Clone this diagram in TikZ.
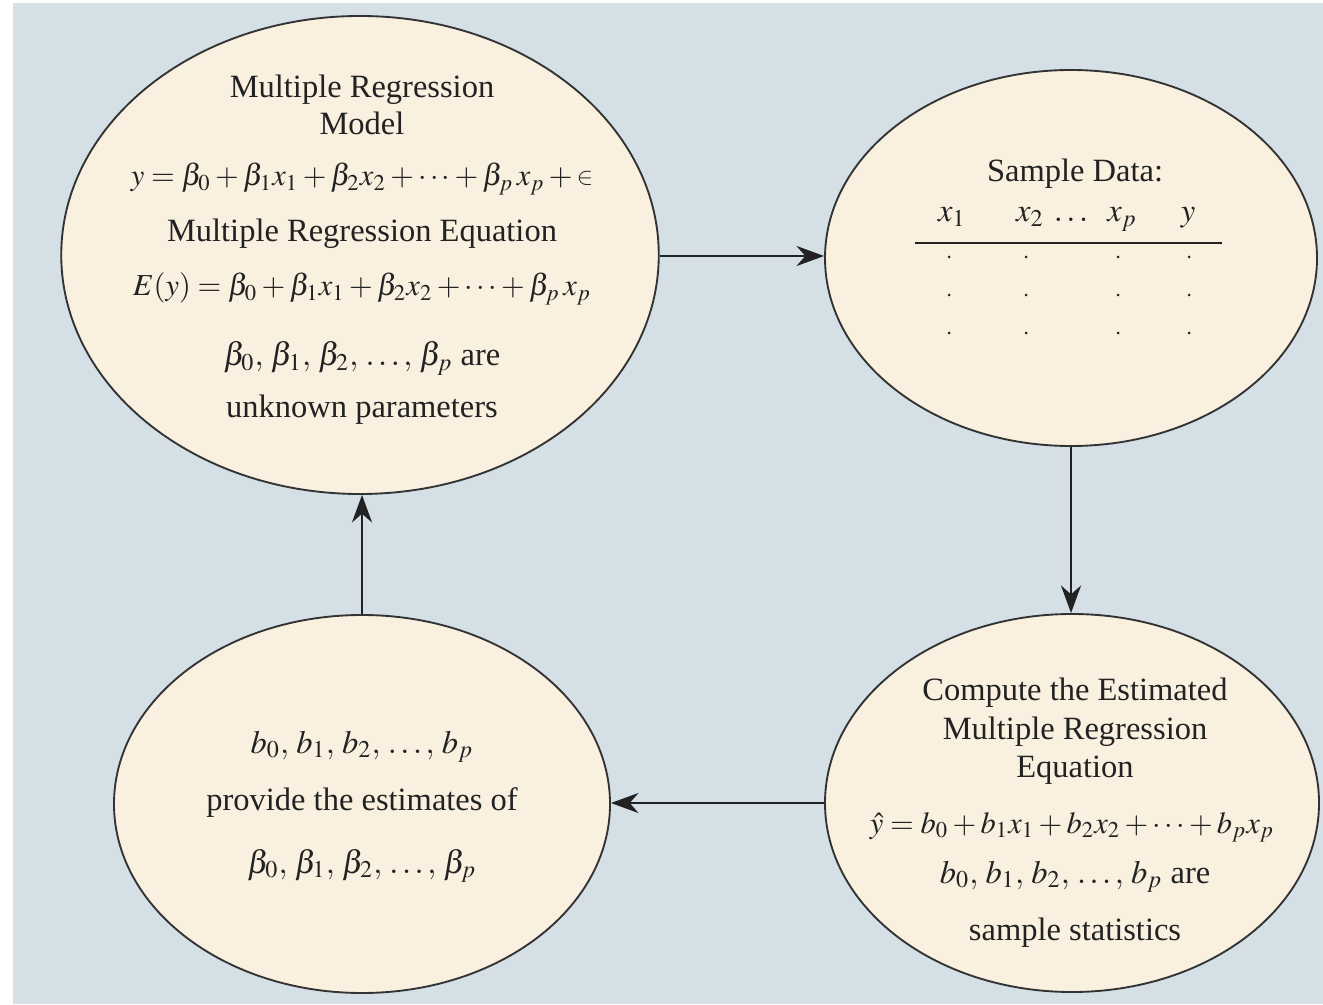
\documentclass[tikz,border=0pt]{standalone}
\usepackage{mathptmx}
\usepackage{fontspec}
\setmainfont{Liberation Serif}
\usetikzlibrary{shapes.geometric,arrows.meta}
\definecolor{bgblue}{HTML}{D4DFE6}
\definecolor{ellfill}{HTML}{F9F0E0}
\definecolor{inkc}{HTML}{222222}
\definecolor{edgec}{HTML}{333333}
\tikzset{
  oval/.style={ellipse, draw=edgec, line width=0.75pt, fill=ellfill, inner sep=0pt},
  txt/.style={anchor=base, inner sep=0pt, text=inkc, font=\fontsize{13}{15}\selectfont},
  eqn/.style={txt, font=\fontsize{12.2}{14}\selectfont},
  flow/.style={draw=inkc, line width=1.1pt, -{Stealth[length=11pt, width=8pt, inset=3.5pt]}},
}
\newcommand{\lunateps}{\mathord{\raisebox{0.1ex}{\scalebox{0.8}{$\in$}}}}
\begin{document}
\begin{tikzpicture}[x=0.4pt, y=-0.4pt]
\useasboundingbox (0,0) rectangle (1323,1004);
\fill[white] (0,0) rectangle (1323,1004);
\fill[bgblue] (13,3) rectangle (1323,1004);

% ellipses
\node[oval, minimum width=239pt, minimum height=191.2pt] (tl) at (360,255) {};
\node[oval, minimum width=196.8pt, minimum height=150.4pt] (tr) at (1071,258) {};
\node[oval, minimum width=197.6pt, minimum height=151.2pt] (br) at (1072,803) {};
\node[oval, minimum width=198.4pt, minimum height=151.2pt] (bl) at (362,804) {};

% top-left text
\node[txt] (tl1) at (362,98) {Multiple Regression};
\node[txt] (tl2) at (362,135) {Model};
\node[eqn] (tl3) at (362,186) {$y = \beta_0 + \beta_1x_1 + \beta_2x_2 + \cdots + \beta_p\, x_p + \lunateps$};
\node[txt] (tl4) at (362,242) {Multiple Regression Equation};
\node[eqn] (tl5) at (362,296) {$E(y) = \beta_0 + \beta_1x_1 + \beta_2x_2 + \cdots + \beta_p\, x_p$};
\node[txt] (tl6) at (362,366) {$\beta_0,\, \beta_1,\, \beta_2,\, \ldots,\, \beta_p$ are};
\node[txt] (tl7) at (362,418) {unknown parameters};

% top-right text
\node[txt] (tr1) at (1075,182) {Sample Data:};
\node[txt] (h1) at (952,222) {$x_1$};
\node[txt] (h2) at (1030,222) {$x_2$};
\node[txt] (h3) at (1071,222) {$\ldots$};
\node[txt] (h4) at (1122,222) {$x_p$};
\node[txt] (h5) at (1188,222) {$y$};
\coordinate (ruleL) at (915,243);
\coordinate (ruleR) at (1222,243);
\draw[inkc, line width=0.9pt] (ruleL) -- (ruleR);
\foreach \yy in {257,295,333}{
  \foreach \xx in {949,1026,1118,1189}{
    \fill[inkc] (\xx,\yy) circle (0.6pt);
  }
}

% bottom-right text
\node[txt] (br1) at (1075,700) {Compute the Estimated};
\node[txt] (br2) at (1075,739) {Multiple Regression};
\node[txt] (br3) at (1075,777) {Equation};
\node[eqn] (br4) at (1072,833) {$\hat{y} = b_0 + b_1x_1 + b_2x_2 + \cdots + b_px_p$};
\node[txt] (br5) at (1075,883) {$b_0,\, b_1,\, b_2,\, \ldots,\, b_p$ are};
\node[txt] (br6) at (1075,940) {sample statistics};

% bottom-left text
\node[txt] (bl1) at (362,753) {$b_0,\, b_1,\, b_2,\, \ldots,\, b_p$};
\node[txt] (bl2) at (362,810) {provide the estimates of};
\node[txt] (bl3) at (362,873) {$\beta_0,\, \beta_1,\, \beta_2,\, \ldots,\, \beta_p$};

% connectors
\draw[flow] (tl.east |- 0,256) -- (tr.west |- 0,256);
\draw[flow] (tr.south) -- (br.north -| tr.south);
\draw[flow] (br.west |- 0,803) -- (bl.east |- 0,803);
\draw[flow] (bl.north) -- (bl.north |- tl.south);
\end{tikzpicture}
\end{document}
